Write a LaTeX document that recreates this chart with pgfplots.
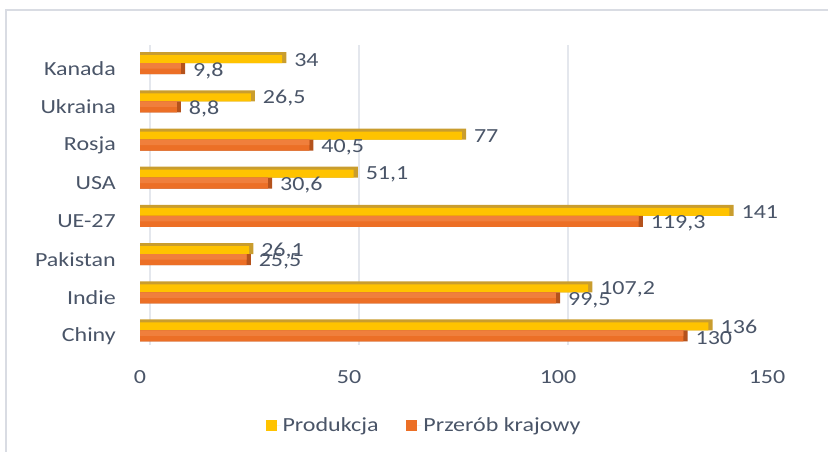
\documentclass[border=0pt]{standalone}
\usepackage{fontspec}
\setmainfont{Carlito}[FakeStretch=1.2]
\usepackage{pgfplots}
\usepackage{pgfplotstable}
\pgfplotsset{compat=1.18}

\definecolor{txt}{HTML}{4A5568}
\definecolor{gridc}{HTML}{D6DAE3}
\definecolor{frm}{HTML}{D9DCE3}
\definecolor{yel}{HTML}{FFC300}
\definecolor{yelD}{HTML}{C99D2E}
\definecolor{ora}{HTML}{EC6F26}
\definecolor{oraL}{HTML}{F07F3C}
\definecolor{oraD}{HTML}{B4521C}

\newcommand{\fs}{\fontsize{20bp}{24bp}\selectfont}

% c: category position (0 = Chiny ... 7 = Kanada)
\pgfplotstableread{
c v
0 136
1 107.2
2 26.1
3 141
4 51.1
5 77
6 26.5
7 34
}\produkcja
\pgfplotstableread{
c v
0 130
1 99.5
2 25.5
3 119.3
4 30.6
5 40.5
6 8.8
7 9.8
}\przerob

\begin{document}
\begin{tikzpicture}[font=\fs]
\useasboundingbox (0,0) rectangle (828bp,452bp);
\draw[frm, line width=1.2bp] (6bp,-20bp) -- (6bp,442bp) -- (860bp,442bp);

\begin{axis}[
  at={(140bp,107bp)}, anchor=south west,
  scale only axis, width=627bp, height=300bp,
  xmin=0, xmax=150, ymin=-0.236, ymax=7.62,
  xbar,
  axis line style={draw=none},
  major tick length=0pt,
  xtick={0,50,100,150},
  ytick={0,...,7},
  yticklabels={Chiny,Indie,Pakistan,UE-27,USA,Rosja,Ukraina,Kanada},
  tick label style={font=\fs, text=txt},
  yticklabel style={anchor=east, inner sep=0pt},
  yticklabel shift=24bp,
  xticklabel style={anchor=north, inner sep=0pt},
  xticklabel shift=25bp,
  /pgf/number format/assume math mode=true,
  /pgf/number format/use comma,
  /pgf/number format/1000 sep={},
  nodes near coords style={anchor=west, xshift=12bp, text=txt, font=\fs, inner sep=0pt},
  legend style={at={(0.453,-0.267)}, anchor=center, draw=none, fill=none,
    legend columns=2, font=\fs, text=txt,
    /tikz/every even column/.append style={column sep=26bp}},
]
% back wall grid and floor edges
\pgfplotsinvokeforeach{0,50,100,150}{
  \draw[gridc, line width=1.1bp] ([xshift=10bp]axis cs:#1,7.62) -- ([xshift=10bp]axis cs:#1,-0.236)
     -- ([xshift=-3bp,yshift=-8bp]axis cs:#1,-0.236);
}
\draw[gridc, line width=1.1bp] ([xshift=-3bp]axis cs:0,7.62) -- ([xshift=-3bp,yshift=-8bp]axis cs:0,-0.236);

% Produkcja: depth (top and side faces) then front face
\addplot[draw=none, fill=yelD, bar width=11bp, bar shift=11bp, forget plot]
  table[x expr=\thisrow{v}+1, y=c] {\produkcja};
\addplot[draw=none, fill=yel, bar width=8bp, bar shift=9.5bp,
  nodes near coords, nodes near coords style={yshift=-0.5bp},
  legend image code/.code={\fill[yel] (0bp,-5.5bp) rectangle (11bp,5.5bp); \path (11bp,0) -- (15bp,0);}]
  table[x=v, y=c] {\produkcja};
\addlegendentry{Produkcja}

% Przerob krajowy
\addplot[draw=none, fill=oraD, bar width=11bp, bar shift=0bp, forget plot]
  table[x expr=\thisrow{v}+1, y=c] {\przerob};
\addplot[draw=none, fill=ora, bar width=11bp, bar shift=0bp,
  nodes near coords, nodes near coords style={yshift=-2bp},
  legend image code/.code={\fill[ora] (0bp,-5.5bp) rectangle (11bp,5.5bp); \path (11bp,0) -- (15bp,0);}]
  table[x=v, y=c] {\przerob};
\addlegendentry{Przerób krajowy}
\addplot[draw=none, fill=oraL, bar width=5.5bp, bar shift=2.75bp, forget plot]
  table[x=v, y=c] {\przerob};
\end{axis}
\end{tikzpicture}
\end{document}
